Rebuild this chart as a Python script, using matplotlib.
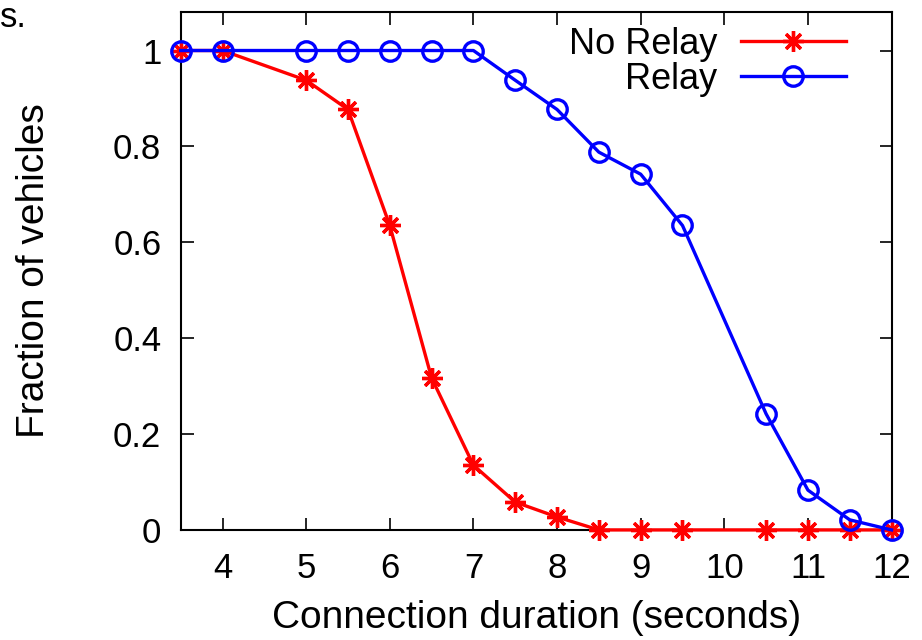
import matplotlib
matplotlib.use("Agg")
import matplotlib.pyplot as plt

x_norelay = [3.5, 4, 5, 5.5, 6, 6.5, 7, 7.5, 8, 8.5, 9, 9.5, 10.5, 11, 11.5, 12]
y_norelay = [1.0, 1.0, 0.938, 0.877, 0.635, 0.317, 0.135, 0.058, 0.027, 0, 0, 0, 0, 0, 0, 0]
x_relay = [3.5, 4, 5, 5.5, 6, 6.5, 7, 7.5, 8, 8.5, 9, 9.5, 10.5, 11, 11.5, 12]
y_relay = [1.0, 1.0, 1.0, 1.0, 1.0, 1.0, 1.0, 0.938, 0.877, 0.788, 0.742, 0.635, 0.242, 0.083, 0.021, 0]
xticks = [4, 5, 6, 7, 8, 9, 10, 11, 12]
yticks = [0, 0.2, 0.4, 0.6, 0.8, 1]
ytick_labels = ["0", "0.2", "0.4", "0.6", "0.8", "1"]

plt.rcParams['font.family'] = ['Liberation Sans', 'DejaVu Sans']

fig = plt.figure(figsize=(9.22, 6.4), dpi=100)
ax = fig.add_axes([0.196, 0.172, 0.771, 0.809])

ax.plot(x_norelay, y_norelay, color='#ff0000', lw=2.4, marker=(8, 2, 0),
        markersize=15, markeredgewidth=2.4, label='No Relay', clip_on=False, zorder=3)
ax.plot(x_relay, y_relay, color='#0000ff', lw=2.4, marker='o', markersize=14,
        markerfacecolor='none', markeredgewidth=2.4, label='Relay', clip_on=False, zorder=4)

ax.set_xlim(3.5, 12)
ax.set_ylim(0, 1.08)
ax.set_xticks(xticks)
ax.set_yticks(yticks)
ax.set_yticklabels(ytick_labels)
ax.tick_params(direction='in', length=9, width=1.2, top=True, right=True,
               labelsize=25)
ax.tick_params(axis='x', pad=16)
ax.tick_params(axis='y', pad=14)
for s in ax.spines.values():
    s.set_linewidth(1.5)

ax.set_xlabel('Connection duration (seconds)', fontsize=28, labelpad=11)
ax.set_ylabel('Fraction of vehicles', fontsize=28, labelpad=44)

ax.legend(loc='upper right', frameon=False, markerfirst=False, fontsize=26,
          handlelength=2.9, handletextpad=0.65, borderaxespad=0.0,
          labelspacing=0.0, bbox_to_anchor=(0.956, 1.0))

fig.text(0.0, 0.972, 's.', fontsize=25, va='center', ha='left')

fig.savefig('out.png', dpi=100)
